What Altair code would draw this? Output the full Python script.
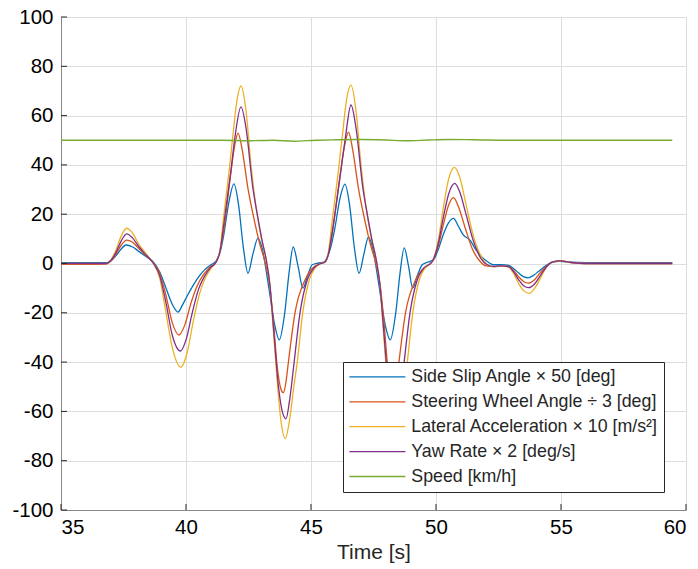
import altair as alt
import pandas as pd

# ---- data ----
series_names = [
    "Side Slip Angle × 50 [deg]",
    "Steering Wheel Angle ÷ 3 [deg]",
    "Lateral Acceleration × 10 [m/s²]",
    "Yaw Rate × 2 [deg/s]",
    "Speed [km/h]",
]
series_colors = ["#0072BD", "#D95319", "#EDB120", "#7E2F8E", "#77AC30"]

t_slip = [35.0, 36.0, 36.8, 37.0, 37.2, 37.4, 37.6, 37.85, 38.1, 38.4, 38.7, 38.95, 39.2, 39.45, 39.68, 39.85,
          40.03, 40.25, 40.5, 40.75, 41.0, 41.2, 41.36, 41.5, 41.7, 41.92, 42.1, 42.3, 42.48, 42.68, 42.88, 43.05,
          43.3, 43.55, 43.73, 43.95, 44.12, 44.29, 44.48, 44.68, 44.86, 45.05, 45.3, 45.52, 45.65, 45.8, 45.95,
          46.15, 46.36, 46.54, 46.74, 46.92, 47.12, 47.3, 47.47, 47.72, 47.97, 48.17, 48.39, 48.56, 48.73, 48.9,
          49.07, 49.25, 49.45, 49.65, 49.9, 50.1, 50.3, 50.5, 50.7, 50.9, 51.1, 51.36, 51.6, 51.85, 52.05, 52.3,
          52.6, 52.9, 53.1, 53.3, 53.5, 53.68, 53.9, 54.15, 54.4, 54.65, 54.95, 55.4, 56.0, 59.45]
v_slip = [0.3, 0.3, 0.3, 1.0, 3.2, 5.8, 7.5, 6.8, 5.0, 2.8, 0.5, -3.5, -10, -16.5, -19.7, -17,
          -13.5, -9.5, -5.5, -2.5, -0.5, 1.0, 4.5, 11, 24, 32.3, 24, 6, -4, 4, 10.3, 6,
          -9, -25, -31, -20, -4, 6.7, -1, -10, -5, -0.5, 0.2, 0.6, 2.5, 7, 14,
          26, 32.2, 24, 6, -4, 4, 10.8, 6, -9, -25, -31, -20, -4, 6.3, -1,
          -10, -5, -0.5, 0.5, 1.5, 6, 12, 16.5, 18.3, 15, 11.5, 9.5, 5.5, 2.5, 0.8, -0.5,
          -0.5, -0.8, -2, -3.8, -5.3, -5.8, -4.8, -2.8, -0.8, 0.6, 0.9, 0.5, 0.3, 0.3]

t_steer = [35.0, 36.0, 36.8, 37.0, 37.2, 37.4, 37.63, 37.85, 38.1, 38.4, 38.7, 38.95, 39.2, 39.45, 39.72, 39.95,
           40.2, 40.45, 40.7, 40.95, 41.2, 41.36, 41.52, 41.75, 41.95, 42.08, 42.25, 42.47, 42.73, 42.95, 43.15,
           43.35, 43.5, 43.65, 43.8, 43.89, 44.0, 44.09, 44.36, 44.76, 45.0, 45.36, 45.55, 45.7, 45.85, 46.1,
           46.33, 46.5, 46.67, 46.89, 47.15, 47.37, 47.57, 47.77, 47.92, 48.07, 48.22, 48.31, 48.42, 48.51, 48.78,
           49.18, 49.45, 49.85, 50.1, 50.3, 50.5, 50.7, 50.9, 51.15, 51.45, 51.75, 52.0, 52.3, 52.6, 52.9, 53.1,
           53.3, 53.5, 53.7, 53.92, 54.15, 54.4, 54.65, 54.95, 55.4, 56.0, 59.45]
v_steer = [-0.3, -0.3, -0.2, 1.1, 3.8, 7.3, 9.5, 8.7, 6.2, 3.2, 0.2, -4, -13, -24, -29, -25,
           -16, -9, -4.5, -1.5, 0.5, 5, 14, 33, 48, 52.9, 46, 31, 17.6, 8, 1,
           -9, -24, -42, -51, -52.4, -48, -40.5, -20, -6.7, -2.5, 0, 0.5, 4, 12, 31,
           47, 53.3, 46, 31, 17.6, 8, 1, -9, -24, -42, -51, -52.4, -48, -40.5, -20,
           -6.7, -2.5, 0.8, 7.5, 16, 23.5, 26.7, 23, 15, 6, 1, -1, -1.3, -1, -1.2, -2.8,
           -5.3, -7.3, -8, -6.8, -4, -1.2, 0.6, 1.2, 0.4, 0, 0]

t_lat = [35.0, 36.0, 36.8, 37.0, 37.2, 37.4, 37.63, 37.85, 38.1, 38.4, 38.7, 38.95, 39.2, 39.45, 39.8, 40.05,
         40.3, 40.55, 40.8, 41.0, 41.2, 41.36, 41.49, 41.73, 41.87, 42.05, 42.2, 42.4, 42.6, 42.8, 43.0, 43.2,
         43.35, 43.5, 43.65, 43.8, 43.97, 44.15, 44.3, 44.45, 44.67, 44.93, 45.15, 45.4, 45.55, 45.7, 45.85,
         46.1, 46.25, 46.43, 46.6, 46.8, 47.0, 47.2, 47.4, 47.6, 47.75, 47.9, 48.05, 48.2, 48.37, 48.55, 48.7,
         48.85, 49.07, 49.33, 49.55, 49.85, 50.1, 50.3, 50.5, 50.73, 50.95, 51.2, 51.5, 51.8, 52.05, 52.3,
         52.6, 52.9, 53.1, 53.3, 53.5, 53.73, 53.95, 54.2, 54.42, 54.65, 54.95, 55.4, 56.0, 59.45]
v_lat = [0, 0, 0, 1.5, 5.5, 11, 14.3, 12.5, 8, 4, 0, -6, -20, -34, -42, -36,
         -23, -12, -5.3, -2, 0.5, 5.5, 17.6, 38, 51.4, 67, 72, 62, 40, 23, 11, 2,
         -8, -28, -48, -64, -71, -63, -51, -40, -20, -6.7, -2, 0, 0.5, 5, 17.6,
         38, 51.4, 67, 72.4, 62, 40, 23, 11, 2, -8, -28, -48, -64, -71, -63, -51,
         -40, -20, -6.7, -2, 0.8, 10, 23, 34, 39, 35, 24, 11, 3, -0.5, -1.3,
         -1, -1.5, -4, -8, -11, -12.1, -10, -5.5, -1.5, 0.6, 1.0, 0.4, 0, 0]

t_yaw = [35.0, 36.0, 36.8, 37.0, 37.2, 37.4, 37.63, 37.85, 38.1, 38.4, 38.7, 38.95, 39.2, 39.45, 39.78, 40.0,
         40.25, 40.5, 40.75, 41.0, 41.2, 41.36, 41.5, 41.8, 41.96, 42.2, 42.4, 42.67, 42.85, 43.05, 43.2,
         43.35, 43.5, 43.7, 43.85, 44.0, 44.15, 44.32, 44.56, 44.85, 45.1, 45.4, 45.55, 45.7, 45.85, 46.2,
         46.38, 46.6, 46.8, 47.07, 47.25, 47.45, 47.6, 47.75, 47.9, 48.1, 48.25, 48.4, 48.55, 48.72, 48.96,
         49.25, 49.5, 49.85, 50.1, 50.3, 50.5, 50.75, 50.95, 51.2, 51.5, 51.8, 52.05, 52.3, 52.6, 52.9, 53.1,
         53.3, 53.5, 53.72, 53.95, 54.2, 54.42, 54.65, 54.95, 55.4, 56.0, 59.45]
v_yaw = [0, 0, 0, 1.3, 4.5, 9, 12, 10.5, 7, 3.5, 0, -5, -16, -29, -35.5, -31,
         -20, -10.5, -5, -1.5, 0.5, 5, 15, 38, 51.4, 63.5, 55, 31, 20, 9, 2,
         -8, -26, -50, -60, -63, -55, -40.5, -20, -6.7, -2, 0, 0.5, 4, 13, 38,
         51.4, 64.3, 55, 31, 20, 9, 2, -8, -26, -50, -60, -63, -55, -40.5, -20,
         -6.7, -2, 0.8, 8.5, 19, 28, 32.5, 29, 20, 9, 2, -0.5, -1.2, -1, -1.3, -3.3,
         -6.5, -9, -9.8, -8.2, -4.5, -1.3, 0.6, 1.1, 0.4, 0, 0]

t_speed = [35.0, 40.0, 41.5, 42.5, 43.5, 44.3, 45.2, 46.0, 47.0, 48.0, 48.8, 49.7, 50.5, 51.5, 53.0, 59.45]
v_speed = [50.0, 50.0, 50.0, 49.8, 50.0, 49.6, 50.0, 50.2, 50.3, 50.1, 49.8, 50.1, 50.3, 50.2, 50.0, 50.0]

x_ticks = [35, 40, 45, 50, 55, 60]
y_ticks = [-100, -80, -60, -40, -20, 0, 20, 40, 60, 80, 100]

# ---- build long table ----
frames = []
for name, ts, vs in zip(series_names,
                        [t_slip, t_steer, t_lat, t_yaw, t_speed],
                        [v_slip, v_steer, v_lat, v_yaw, v_speed]):
    frames.append(pd.DataFrame({"t": ts, "v": vs, "series": name}))
df = pd.concat(frames, ignore_index=True)
df["order"] = df["series"].map({n: i for i, n in enumerate(series_names)})

W, H = 625, 493
FONT = "Liberation Sans"
TXT = "#262626"

xscale = alt.Scale(domain=[35, 60], nice=False, zero=False)
yscale = alt.Scale(domain=[-100, 100], nice=False, zero=False)

lines = alt.Chart(df).mark_line(strokeWidth=1.3, interpolate="monotone").encode(
    x=alt.X("t:Q", scale=xscale,
            axis=alt.Axis(values=x_ticks, title="Time [s]", grid=True, tickSize=0,
                          labelPadding=7, titlePadding=4, labelFontSize=20.5, titleFontSize=21,
                          titleFontWeight="normal", titleFont=FONT, titleColor=TXT,
                          labelExpr="'' + datum.value")),
    y=alt.Y("v:Q", scale=yscale,
            axis=alt.Axis(values=y_ticks, title=None, grid=True, tickSize=0,
                          labelPadding=8, labelFontSize=20.5,
                          labelExpr="'' + datum.value")),
    color=alt.Color("series:N",
                    scale=alt.Scale(domain=series_names, range=series_colors),
                    sort=series_names,
                    legend=alt.Legend(orient="none", legendX=282, legendY=345, title=None,
                                      fillColor="white", strokeColor=TXT, padding=6,
                                      symbolType="M-4,0H4", symbolSize=196, symbolStrokeWidth=1.3,
                                      symbolOffset=19.5, labelOffset=25, labelFontSize=17.8,
                                      labelFont=FONT, labelColor=TXT, labelLimit=400,
                                      rowPadding=5.9)),
    order=alt.Order("order:Q"),
)

xt = pd.DataFrame({"t": x_ticks})
yt = pd.DataFrame({"v": y_ticks})
xtick_marks = alt.Chart(xt).mark_rule(color=TXT, strokeWidth=1).encode(
    x=alt.X("t:Q", scale=xscale), y=alt.value(H - 6), y2=alt.value(H))
ytick_marks = alt.Chart(yt).mark_rule(color=TXT, strokeWidth=1).encode(
    y=alt.Y("v:Q", scale=yscale), x=alt.value(0), x2=alt.value(6))

chart = alt.layer(lines, xtick_marks, ytick_marks).properties(
    width=W, height=H,
    padding={"left": 61, "top": 17, "right": 12, "bottom": 59},
    autosize=alt.AutoSizeParams(type="none"),
).configure_view(stroke="transparent").configure_axis(
    labelFont=FONT, titleFont=FONT, labelColor=TXT, titleColor=TXT,
    titleFontWeight="normal", domainColor=TXT, domainWidth=1,
    gridColor="#dfdfdf", gridWidth=1,
).configure(background="white")

chart.save("out.html", embed_options={"renderer": "svg", "actions": False})
